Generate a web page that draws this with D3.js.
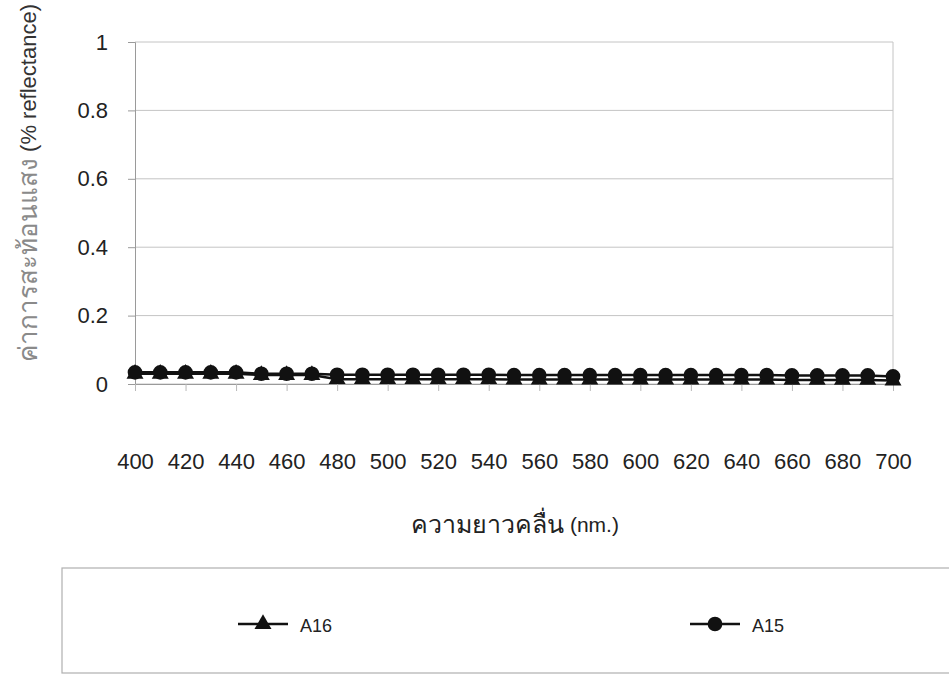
<!DOCTYPE html>
<html>
<head>
<meta charset="utf-8">
<script src="https://cdn.jsdelivr.net/npm/d3@7"></script>
<style>
  html, body { margin: 0; padding: 0; background: #fff; }
  svg { display: block; font-family: "Liberation Sans", Arial, "Noto Sans", sans-serif; }
</style>
</head>
<body>
<svg id="chart" width="949" height="675"></svg>
<script>
// Wavelengths (nm) and reflectance readings for each sample
const wavelengths = [400,410,420,430,440,450,460,470,480,490,500,510,520,530,540,550,560,570,580,590,600,610,620,630,640,650,660,670,680,690,700];
const a16 = [0.030,0.030,0.030,0.030,0.030,0.026,0.026,0.026,0.014,0.014,0.014,0.014,0.014,0.014,0.014,0.013,0.013,0.013,0.013,0.013,0.013,0.013,0.013,0.013,0.013,0.013,0.012,0.012,0.012,0.012,0.010];
const a15 = [0.034,0.034,0.034,0.034,0.034,0.030,0.030,0.030,0.027,0.027,0.027,0.027,0.027,0.027,0.027,0.026,0.026,0.026,0.026,0.026,0.026,0.026,0.026,0.026,0.026,0.026,0.025,0.025,0.025,0.025,0.022];
const xTickLabels = [400,420,440,460,480,500,520,540,560,580,600,620,640,660,680,700];
const yTickValues = [0,0.2,0.4,0.6,0.8,1];
const seriesNames = ["A16","A15"];
const yTitleThai = "ค่าการสะท้อนแสง";
const yTitleLatin = " (% reflectance)";
const xTitleThai = "ความยาวคลื่น";
const xTitleLatin = " (nm.)";

const svg = d3.select("#chart");
const plot = { left: 135, right: 893, top: 42, bottom: 384 };

const x = d3.scalePoint().domain(wavelengths).range([plot.left, plot.right]);
const y = d3.scaleLinear().domain([0, 1]).range([plot.bottom, plot.top]);

// horizontal gridlines
svg.append("g")
  .selectAll("line")
  .data(yTickValues)
  .join("line")
  .attr("x1", plot.left).attr("x2", plot.right)
  .attr("y1", d => y(d)).attr("y2", d => y(d))
  .attr("stroke", "#c4c4c4").attr("stroke-width", 1);

// right border of plot area
svg.append("line")
  .attr("x1", plot.right).attr("x2", plot.right)
  .attr("y1", plot.top).attr("y2", plot.bottom)
  .attr("stroke", "#c4c4c4");

// y axis
const yAxis = svg.append("g")
  .attr("transform", `translate(${plot.left},0)`)
  .call(d3.axisLeft(y).tickValues(yTickValues).tickFormat(d3.format("~g")).tickSize(7).tickPadding(20));
yAxis.select(".domain").attr("stroke", "#9a9a9a");
yAxis.selectAll(".tick line").attr("stroke", "#9a9a9a");
yAxis.selectAll("text").attr("font-size", 22).attr("fill", "#222").attr("font-family", "Liberation Sans, Arial, sans-serif");

// x axis
const xAxis = svg.append("g")
  .attr("transform", `translate(0,${plot.bottom})`)
  .call(d3.axisBottom(x).tickValues(xTickLabels).tickSize(7).tickPadding(62));
xAxis.select(".domain").attr("stroke", "#9a9a9a");
xAxis.selectAll(".tick line").attr("stroke", "#b8b8b8");
xAxis.selectAll("text").attr("font-size", 22).attr("fill", "#222").attr("font-family", "Liberation Sans, Arial, sans-serif");

// axis titles
const yt = svg.append("text")
  .attr("transform", `translate(28,4) rotate(-90)`)
  .attr("text-anchor", "end").attr("dominant-baseline", "central")
  .attr("font-size", 22).attr("fill", "#333");
yt.append("tspan").attr("font-size", 26).attr("fill", "#8a8a8a").text(yTitleThai);
yt.append("tspan").text(yTitleLatin);

const xt = svg.append("text")
  .attr("x", 515).attr("y", 524)
  .attr("text-anchor", "middle").attr("dominant-baseline", "central")
  .attr("font-size", 21).attr("fill", "#222");
xt.append("tspan").attr("font-size", 25).text(xTitleThai);
xt.append("tspan").text(xTitleLatin);

// series
const triangle = d3.symbol().type(d3.symbolTriangle).size(125);
const circle = d3.symbol().type(d3.symbolCircle).size(170);
const series = [
  { name: seriesNames[0], values: a16, sym: triangle },
  { name: seriesNames[1], values: a15, sym: circle }
];
const line = d3.line().x((d, i) => x(wavelengths[i])).y(d => y(d));

series.forEach(s => {
  const g = svg.append("g");
  g.append("path")
    .attr("d", line(s.values))
    .attr("fill", "none").attr("stroke", "#111").attr("stroke-width", 2.5);
  g.selectAll("path.m")
    .data(s.values)
    .join("path").attr("class", "m")
    .attr("transform", (d, i) => `translate(${x(wavelengths[i])},${y(d)})`)
    .attr("d", s.sym())
    .attr("fill", "#111");
});

// legend box
const legend = svg.append("g");
legend.append("rect")
  .attr("x", 62).attr("y", 568).attr("width", 920).attr("height", 105)
  .attr("fill", "none").attr("stroke", "#b0b0b0").attr("stroke-width", 1.2);

const legendX = [238, 690];
series.forEach((s, i) => {
  const lg = legend.append("g").attr("transform", `translate(${legendX[i]},624)`);
  lg.append("line").attr("x1", 0).attr("x2", 50).attr("y1", 0).attr("y2", 0)
    .attr("stroke", "#111").attr("stroke-width", 2.5);
  lg.append("path").attr("transform", "translate(25,0)").attr("d", s.sym()).attr("fill", "#111");
  lg.append("text").attr("x", 62).attr("y", 2)
    .attr("dominant-baseline", "central").attr("font-size", 18).attr("fill", "#222")
    .text(s.name);
});
</script>
</body>
</html>
